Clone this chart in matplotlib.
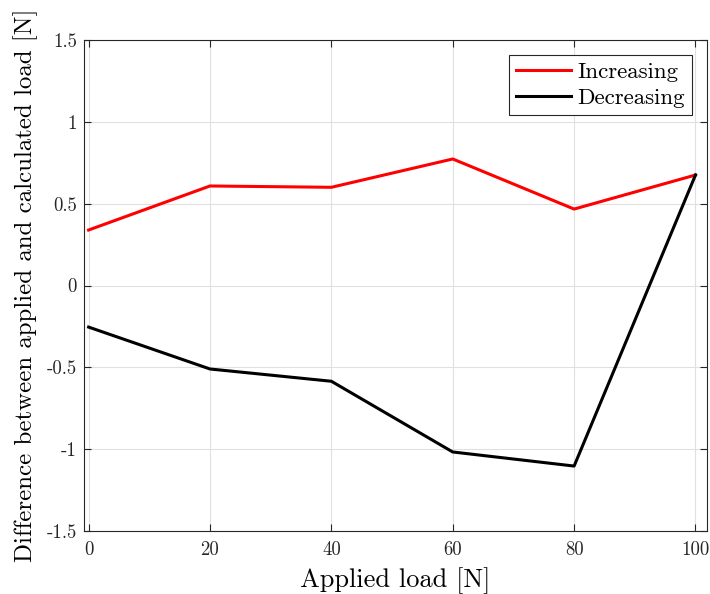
import matplotlib.pyplot as plt

# data
load = [0, 20, 40, 60, 80, 100]
increasing = [0.339, 0.608, 0.600, 0.773, 0.467, 0.675]
decreasing = [-0.254, -0.510, -0.585, -1.017, -1.103, 0.675]
yticks = [-1.5, -1, -0.5, 0, 0.5, 1, 1.5]
ytick_labels = ['-1.5', '-1', '-0.5', '0', '0.5', '1', '1.5']

plt.rcParams['font.family'] = ['cmr10', 'DejaVu Serif']
plt.rcParams['mathtext.fontset'] = 'cm'

fig = plt.figure(figsize=(7.1, 5.94), dpi=100)
ax = fig.add_axes([0.1183, 0.106, 0.8775, 0.8267])

ax.plot(load, increasing, color='red', lw=2.2, label='Increasing')
ax.plot(load, decreasing, color='black', lw=2.2, label='Decreasing')

ax.set_xlim(-0.76, 101.9)
ax.set_ylim(-1.5, 1.5)
ax.set_xticks(load)
ax.set_xticklabels([str(v) for v in load])
ax.set_yticks(yticks)
ax.set_yticklabels(ytick_labels)
ax.grid(True, color='#e0e0e0', lw=0.8)
ax.tick_params(direction='in', top=True, right=True, labelsize=13.5, length=5, width=0.8, colors='#262626')
ax.tick_params(axis='x', pad=7)
ax.tick_params(axis='y', pad=5)
for s in ax.spines.values():
    s.set_color('#262626')
    s.set_linewidth(0.8)

ax.set_xlabel('Applied load [N]', fontsize=19, labelpad=6)
ax.set_ylabel('Difference between applied and calculated load [N]', fontsize=17.9, labelpad=6)

leg = ax.legend(loc='upper right', fontsize=16.5, fancybox=False, framealpha=1,
                edgecolor='#262626', handlelength=2.4, handletextpad=0.3,
                borderpad=0.3, labelspacing=0.28, borderaxespad=0.65)
leg.get_frame().set_linewidth(0.8)

fig.savefig('out.png', dpi=100)
